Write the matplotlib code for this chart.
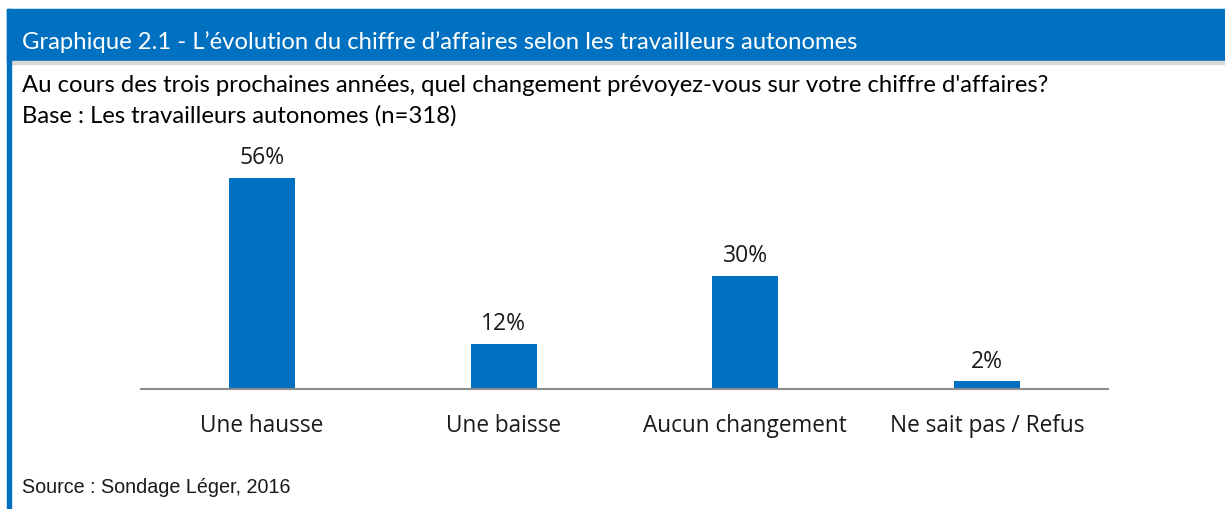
import matplotlib.pyplot as plt
import matplotlib.patches as mpatches
import numpy as np

# Data
categories = ["Une hausse", "Une baisse", "Aucun changement", "Ne sait pas / Refus"]
values = [56, 12, 30, 2]

title = "Graphique 2.1 - L\u2019évolution du chiffre d\u2019affaires selon les travailleurs autonomes"
question = "Au cours des trois prochaines années, quel changement prévoyez-vous sur votre chiffre d'affaires?"
base = "Base : Les travailleurs autonomes (n=318)"
source = "Source : Sondage Léger, 2016"

COLOR_BLUE = "#0070C0"
COLOR_AXIS = "#8C8C8C"
COLOR_TEXT = "#1A1A1A"

W, H = 1225, 510
fig = plt.figure(figsize=(W / 100, H / 100), dpi=100)
fig.patch.set_facecolor("white")

# frame: blue band, grey separator, left blue border
fig.patches.append(mpatches.Rectangle((7 / W, 1 - 62 / H), 1 - 7 / W, 52 / H,
                                      transform=fig.transFigure, color=COLOR_BLUE, zorder=0))
fig.patches.append(mpatches.Rectangle((7 / W, 1 - 65 / H), 1 - 7 / W, 3 / H,
                                      transform=fig.transFigure, color="#D9D9D9", zorder=0))
fig.patches.append(mpatches.Rectangle((7 / W, 0), 3.5 / W, 1 - 10 / H,
                                      transform=fig.transFigure, color=COLOR_BLUE, zorder=0))

fig.text(22 / W, 1 - 42 / H, title, color="white", fontsize=17.2, family="Lato",
         va="center", ha="left")
fig.text(22 / W, 1 - 86 / H, question, color="black", fontsize=17.2, family="Lato",
         va="center", ha="left")
fig.text(22 / W, 1 - 116 / H, base, color="black", fontsize=17.2, family="Lato",
         va="center", ha="left")
fig.text(22 / W, 1 - 488 / H, source, color=COLOR_TEXT, fontsize=14.2,
         family=["Liberation Sans Narrow", "Liberation Sans"], va="center", ha="left")

# chart area
ymax = 60
ax_left, ax_right = 141 / W, 1108 / W
ax_bottom = 1 - 390 / H
ax_height = ymax * 3.77 / H
ax = fig.add_axes([ax_left, ax_bottom, ax_right - ax_left, ax_height])
ax.set_facecolor("none")

x = np.arange(len(categories))
ax.bar(x, values, width=0.273, color=COLOR_BLUE, zorder=2)
ax.set_xlim(-0.5, len(categories) - 0.5)
ax.set_ylim(0, ymax)

for xi, v in zip(x, values):
    ax.annotate(f"{v}%", (xi, v), xytext=(0, 15), textcoords="offset points",
                ha="center", va="center", fontsize=16.5, family="Open Sans",
                color=COLOR_TEXT, clip_on=False)

for s in ["top", "right", "left"]:
    ax.spines[s].set_visible(False)
ax.spines["bottom"].set_color(COLOR_AXIS)
ax.spines["bottom"].set_linewidth(1.5)
ax.set_yticks([])
ax.set_xticks(x)
ax.set_xticklabels(categories, fontsize=16.3, family="Open Sans", color=COLOR_TEXT)
ax.tick_params(axis="x", length=0, pad=17)

fig.savefig("out.png", dpi=100, facecolor="white")
